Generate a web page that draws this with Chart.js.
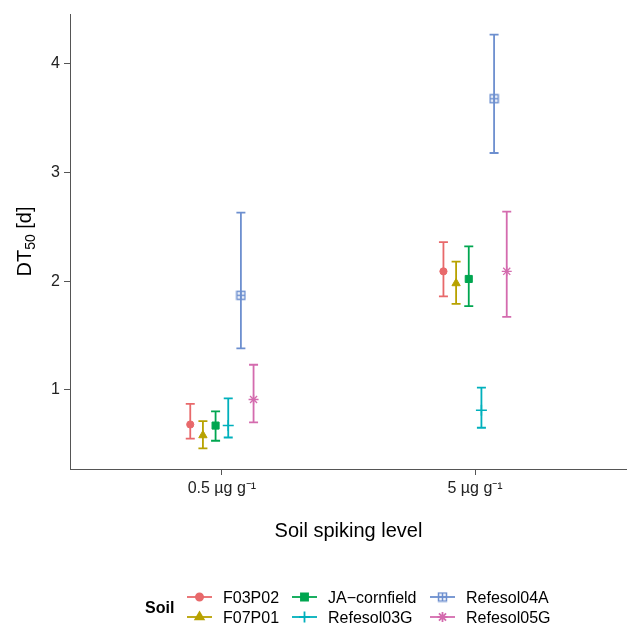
<!DOCTYPE html>
<html lang="en">
<head>
<meta charset="UTF-8">
<title>DT50 by soil spiking level</title>
<script src="https://cdn.jsdelivr.net/npm/chart.js"></script>
<style>
  html, body { margin: 0; padding: 0; background: #fff; }
</style>
</head>
<body>
<canvas id="chart" width="627" height="624"></canvas>
<script>
// spiking levels on the x axis
const levels = ['0.5 µg g⁻¹', '5 µg g⁻¹'];
const soils = ['F03P02', 'F07P01', 'JA−cornfield', 'Refesol03G', 'Refesol04A', 'Refesol05G'];

// DT50 [d] per soil, [0.5 µg/g, 5 µg/g]
const dt50Mean  = [[0.68, 2.09], [0.58, 1.98], [0.67, 2.02], [0.67, 0.81], [1.87, 3.68], [0.91, 2.09]];
const dt50Lower = [[0.55, 1.86], [0.46, 1.79], [0.53, 1.77], [0.56, 0.65], [1.38, 3.18], [0.70, 1.67]];
const dt50Upper = [[0.87, 2.36], [0.71, 2.18], [0.80, 2.32], [0.92, 1.02], [2.63, 4.27], [1.23, 2.64]];
const yTicks = [1, 2, 3, 4];

const colors = ['#E8696B', '#B8A200', '#00A650', '#00B0BC', '#6D8FCF', '#D46BAE'];

Chart.defaults.font.family = '"Liberation Sans", Arial, Helvetica, sans-serif';

// square with a plus inside (no built-in point style for it)
function boxedPlus(color) {
    const c = document.createElement('canvas');
    c.width = 11; c.height = 11;
    const g = c.getContext('2d');
    g.strokeStyle = color;
    g.lineWidth = 1.5;
    g.strokeRect(1.5, 1.5, 8, 8);
    g.beginPath();
    g.moveTo(5.5, 1.5); g.lineTo(5.5, 9.5);
    g.moveTo(1.5, 5.5); g.lineTo(9.5, 5.5);
    g.stroke();
    return c;
}

const shapes = ['circle', 'triangle', 'rect', 'cross', boxedPlus(colors[4]), 'star'];
const radii = [3.6, 4.8, 5, 5.5, 5, 5];
const borderW = [1, 1, 1, 1.5, 1, 1.3];

// dodge the soils side by side around each level
const dodge = 0.3;
function xPos(level, soil) {
    const step = dodge / soils.length;
    return level + 1 - dodge / 2 + step * (soil + 0.5);
}

const datasets = soils.map((s, i) => ({
    label: s,
    data: levels.map((_, j) => ({ x: xPos(j, i), y: dt50Mean[i][j], lo: dt50Lower[i][j], hi: dt50Upper[i][j] })),
    pointStyle: shapes[i],
    pointRadius: radii[i],
    pointBorderWidth: borderW[i],
    backgroundColor: colors[i],
    borderColor: colors[i]
}));

const errorBars = {
    id: 'errorBars',
    beforeDatasetsDraw(chart) {
        const { ctx, scales: { x, y } } = chart;
        const cap = 4.5;
        ctx.save();
        chart.data.datasets.forEach(ds => {
            ctx.strokeStyle = ds.borderColor;
            ctx.lineWidth = 1.8;
            ds.data.forEach(p => {
                const px = x.getPixelForValue(p.x);
                const top = y.getPixelForValue(p.hi);
                const bot = y.getPixelForValue(p.lo);
                ctx.beginPath();
                ctx.moveTo(px, top); ctx.lineTo(px, bot);
                ctx.moveTo(px - cap, top); ctx.lineTo(px + cap, top);
                ctx.moveTo(px - cap, bot); ctx.lineTo(px + cap, bot);
                ctx.stroke();
            });
        });
        ctx.restore();
    }
};

// axis titles + ggplot style legend at the bottom
const extras = {
    id: 'extras',
    afterDraw(chart) {
        const { ctx, chartArea: a } = chart;
        const fam = Chart.defaults.font.family;
        ctx.save();
        ctx.fillStyle = '#000';
        ctx.textBaseline = 'alphabetic';

        // x title
        ctx.font = '20px ' + fam;
        ctx.textAlign = 'center';
        ctx.fillText('Soil spiking level', (a.left + a.right) / 2, 537);

        // y title, DT with subscript 50
        ctx.save();
        ctx.translate(31, (a.top + a.bottom) / 2);
        ctx.rotate(-Math.PI / 2);
        ctx.textAlign = 'left';
        ctx.font = '20px ' + fam;
        const w1 = ctx.measureText('DT').width;
        const w3 = ctx.measureText(' [d]').width;
        ctx.font = '14px ' + fam;
        const w2 = ctx.measureText('50').width;
        let tx = -(w1 + w2 + w3) / 2;
        ctx.font = '20px ' + fam;
        ctx.fillText('DT', tx, 0);
        tx += w1;
        ctx.font = '14px ' + fam;
        ctx.fillText('50', tx, 4);
        tx += w2;
        ctx.font = '20px ' + fam;
        ctx.fillText(' [d]', tx, 0);
        ctx.restore();

        // legend
        ctx.textAlign = 'left';
        ctx.font = 'bold 16px ' + fam;
        ctx.fillText('Soil', 145, 613);
        const colX = [187, 292, 430];
        const rowY = [597, 617];
        ctx.font = '16px ' + fam;
        chart.data.datasets.forEach((ds, i) => {
            const x0 = colX[Math.floor(i / 2)];
            const y0 = rowY[i % 2];
            ctx.strokeStyle = ds.borderColor;
            ctx.fillStyle = ds.backgroundColor;
            ctx.lineWidth = 1.8;
            ctx.beginPath();
            ctx.moveTo(x0, y0); ctx.lineTo(x0 + 25, y0);
            ctx.stroke();
            Chart.helpers.drawPoint(ctx, {
                pointStyle: ds.pointStyle, radius: ds.pointRadius,
                borderWidth: ds.pointBorderWidth, rotation: 0
            }, x0 + 12.5, y0);
            ctx.fillStyle = '#000';
            ctx.fillText(ds.label, x0 + 36, y0 + 6);
        });
        ctx.restore();
    }
};

new Chart(document.getElementById('chart'), {
    type: 'scatter',
    data: { datasets: datasets },
    plugins: [errorBars, extras],
    options: {
        responsive: false,
        animation: false,
        devicePixelRatio: 1,
        layout: { autoPadding: false, padding: { top: 14, left: 0, right: 0, bottom: 0 } },
        plugins: { legend: { display: false }, tooltip: { enabled: false } },
        scales: {
            x: {
                type: 'linear',
                min: 0.4,
                max: 2.6,
                afterBuildTicks: s => { s.ticks = levels.map((_, j) => ({ value: j + 1 })); },
                afterFit: s => { s.height = 155; },
                grid: { drawOnChartArea: false, drawTicks: true, tickLength: 6, color: '#555', tickWidth: 1 },
                border: { color: '#555', width: 1 },
                ticks: {
                    callback: v => levels[Math.round(v) - 1],
                    color: '#222', font: { size: 16 }, padding: 4,
                    maxRotation: 0, autoSkip: false
                }
            },
            y: {
                min: 0.27,
                max: 4.46,
                afterBuildTicks: s => { s.ticks = yTicks.map(v => ({ value: v })); },
                afterFit: s => { s.width = 70; },
                grid: { drawOnChartArea: false, drawTicks: true, tickLength: 6, color: '#555', tickWidth: 1 },
                border: { color: '#555', width: 1 },
                ticks: { color: '#222', font: { size: 16 }, padding: 4 }
            }
        }
    }
});
</script>
</body>
</html>
